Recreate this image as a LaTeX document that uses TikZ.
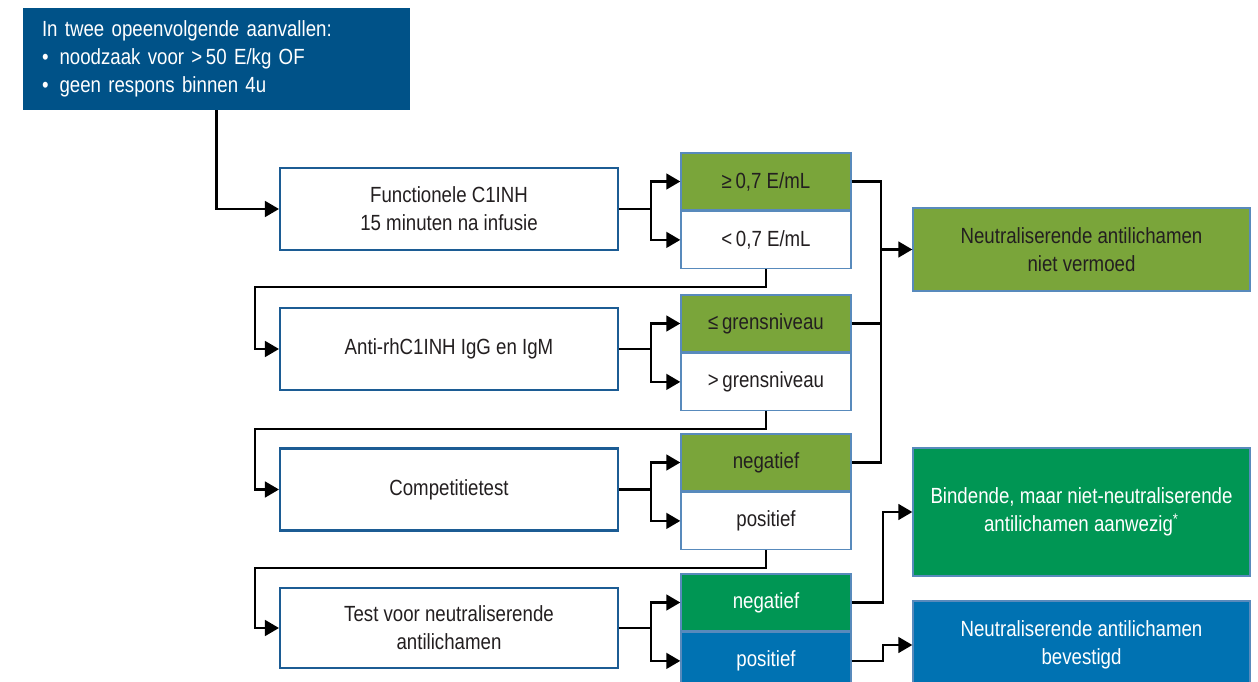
\documentclass[tikz,border=0pt]{standalone}
\usepackage{fontspec}
\setmainfont{Liberation Sans}[FakeStretch=0.85]
\usetikzlibrary{arrows.meta,positioning}

\definecolor{kopblauw}{RGB}{0,82,136}
\definecolor{randblauw}{RGB}{28,92,148}
\definecolor{lichtrand}{RGB}{88,138,188}
\definecolor{olijf}{RGB}{122,165,58}
\definecolor{groen}{RGB}{0,150,84}
\definecolor{blauw}{RGB}{0,114,178}
\definecolor{tekst}{RGB}{35,31,32}

\tikzset{
    tk/.style={font=\fontsize{12.5pt}{16pt}\selectfont},
    kop/.style={tk, fill=kopblauw, text=white, minimum width=7.74cm, minimum height=2.04cm,
        text width=6.98cm, align=left, inner xsep=0.38cm},
    test/.style={tk, draw=randblauw, line width=1.2pt, fill=white, text=tekst,
        minimum width=6.76cm, minimum height=1.64cm, align=center},
    uitslag/.style={tk, draw=lichtrand, line width=0.8pt, text=tekst,
        minimum width=3.4cm, minimum height=1.14cm},
    eind/.style={tk, draw=lichtrand, line width=0.8pt, text=white,
        minimum width=6.74cm, align=center},
    lijn/.style={line width=1.3pt, black},
    pijl/.style={lijn, -{Triangle[length=8pt,width=9pt]}},
}

\begin{document}
\begin{tikzpicture}[x=0.02cm, y=-0.02cm]
        \useasboundingbox (0,0) rectangle (1258,682);

        % startvoorwaarde
        \node[kop] (start) at (216.5,59) {In twee opeenvolgende aanvallen:\\
            \textbullet\hspace{0.5em}noodzaak voor >\,50 E/kg OF\\
            \textbullet\hspace{0.5em}geen respons binnen 4u};

        % testen
        \node[test] (func) at (449,209) {Functionele C1INH\\15 minuten na infusie};
        \node[test] (anti) at (449,349) {Anti-rhC1INH IgG en IgM};
        \node[test] (comp) at (449,489.5) {Competitietest};
        \node[test, minimum height=1.6cm] (neut) at (449,628) {Test voor neutraliserende\\antilichamen};

        % uitslagen
        \node[uitslag, fill=olijf] (ge) at (766,181.5) {≥\,0,7 E/mL};
        \node[uitslag, fill=white, below=0pt of ge] (lt) {<\,0,7 E/mL};
        \node[uitslag, fill=olijf] (le) at (766,323.5) {≤\,grensniveau};
        \node[uitslag, fill=white, below=0pt of le] (gt) {>\,grensniveau};
        \node[uitslag, fill=olijf] (cneg) at (766,462.5) {negatief};
        \node[uitslag, fill=white, below=0pt of cneg] (cpos) {positief};
        \node[uitslag, fill=groen, text=white] (nneg) at (766,602.5) {negatief};
        \node[uitslag, fill=blauw, text=white, below=0pt of nneg] (npos) {positief};

        % conclusies
        \node[eind, fill=olijf, text=tekst, minimum height=1.66cm] (niet) at (1081.5,249.5)
            {Neutraliserende antilichamen\\niet vermoed};
        \node[eind, fill=groen, minimum height=2.56cm] (bind) at (1081.5,512)
            {Bindende, maar niet-neutraliserende\\antilichamen aanwezig\textsuperscript{*}};
        \node[eind, fill=blauw, minimum height=1.76cm] (bev) at (1081.5,645)
            {Neutraliserende antilichamen\\bevestigd};

        \draw[pijl] (start.south) |- (func.west);
        \foreach \t/\a/\b in {func/ge/lt, anti/le/gt, comp/cneg/cpos, neut/nneg/npos} {
            \draw[pijl] (\t.east) -- ++(32,0) |- (\a.west);
            \draw[pijl] (\t.east) -- ++(32,0) |- (\b.west);
        }
        \foreach \u/\t in {lt/anti, gt/comp, cpos/neut}
            \draw[pijl] (\u.south) -- ++(0,18) -| ([xshift=-0.48cm]\t.west) -- (\t.west);

        \coordinate (samen) at ([xshift=-0.62cm]niet.west);
        \draw[lijn] (ge.east) -| (samen |- cneg.east) -- (cneg.east);
        \draw[lijn] (le.east) -- (le.east -| samen);
        \draw[pijl] (samen) -- (niet.west);
        \draw[pijl] (nneg.east) -- ++(31,0) |- (bind.west);
        \draw[pijl] (npos.east) -- ++(31,0) |- (bev.west);
\end{tikzpicture}
\end{document}
